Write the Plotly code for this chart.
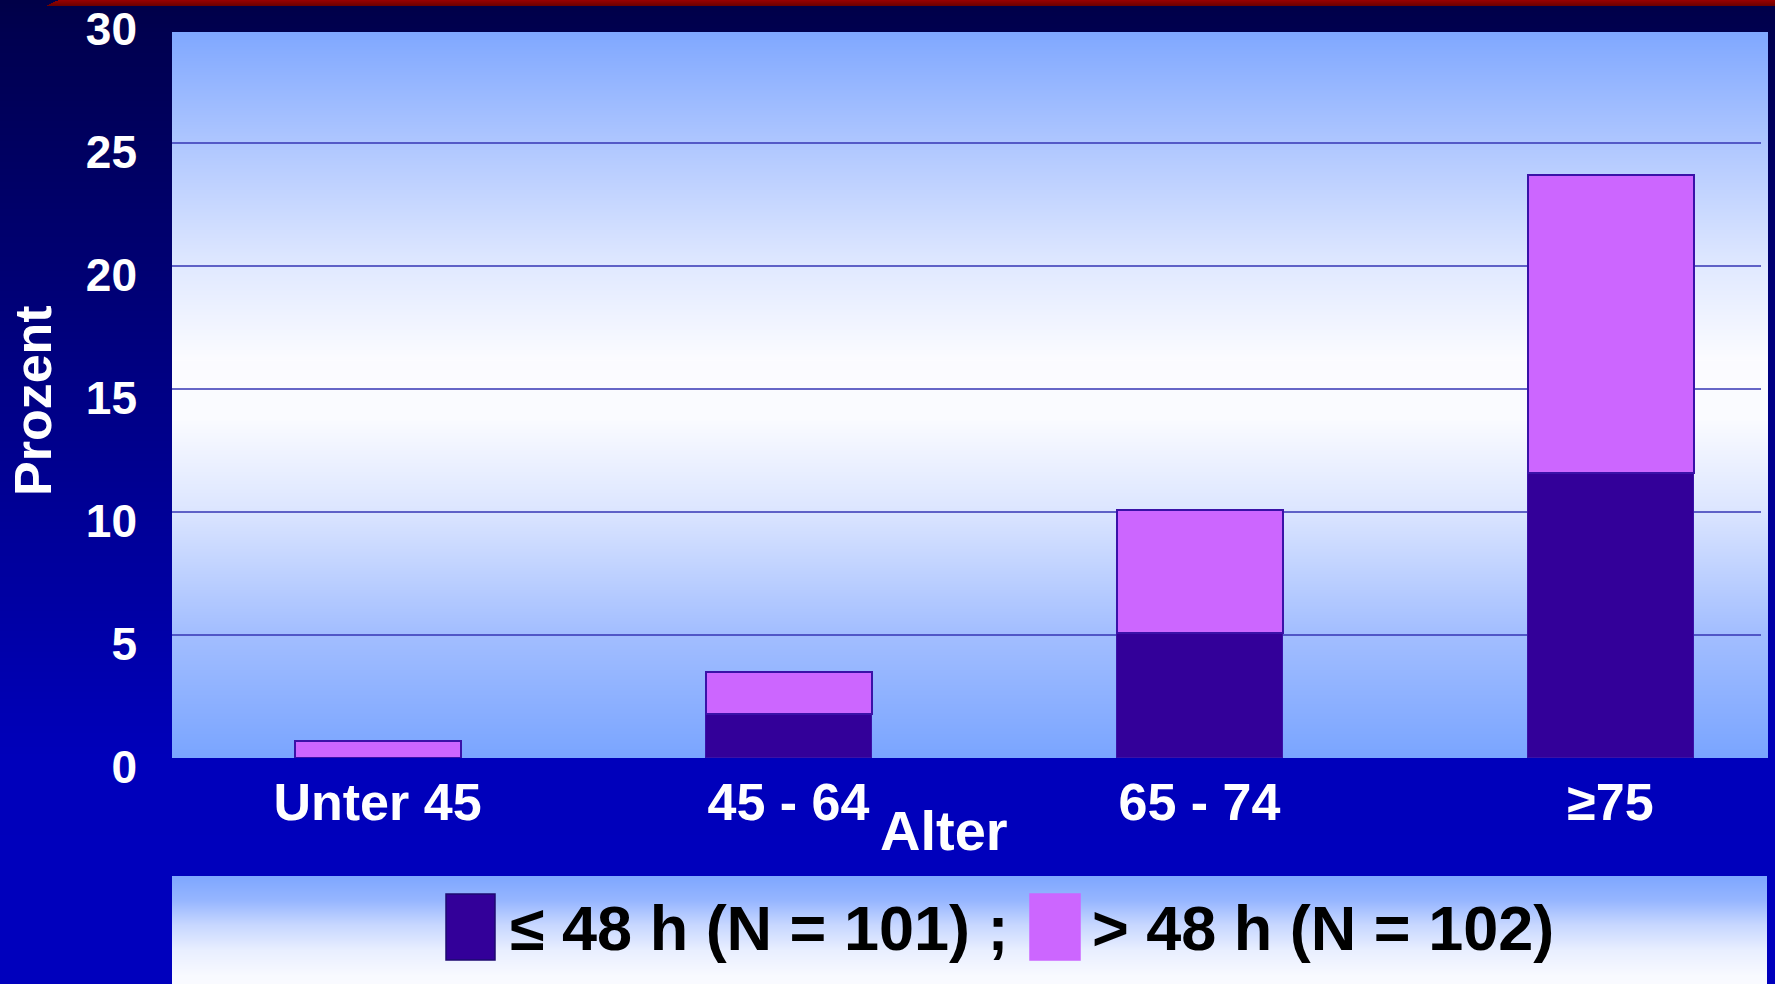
import base64
import struct
import zlib

import numpy as np
import plotly.graph_objects as go

# ---- data -------------------------------------------------------------
age_groups = ["Unter 45", "45 - 64", "65 - 74", "≥75"]
share_le48 = [0.0, 1.8, 5.1, 11.6]     # ≤ 48 h, percent
share_gt48 = [0.7, 1.7, 5.0, 12.1]     # > 48 h, percent
series_names = ["≤ 48 h (N = 101) ;", "> 48 h (N = 102)"]
y_ticks = [0, 5, 10, 15, 20, 25, 30]
grid_levels = [5, 10, 15, 20, 25]

# ---- page geometry (pixels) -------------------------------------------
W, H = 1775, 984
L, R, T, B = 172, 7, 20, 226
PW, PH = W - L - R, H - T - B
Y0 = H - B                      # pixel row of value 0
CAT_STEP = 411                  # pixel distance between category centres

FONT = "Liberation Sans, Arial, Helvetica, sans-serif"
DARK = "#330099"
LIGHT = "#CC66FF"


def px_x(x):
    return (x - L) / PW


def px_y(y):
    return (Y0 - y) / PH


def png_uri(rgb):
    h, w, _ = rgb.shape
    raw = b"".join(b"\x00" + rgb[r].tobytes() for r in range(h))

    def chunk(tag, data):
        body = tag + data
        return struct.pack(">I", len(data)) + body + struct.pack(">I", zlib.crc32(body) & 0xFFFFFFFF)

    png = (b"\x89PNG\r\n\x1a\n"
           + chunk(b"IHDR", struct.pack(">IIBBBBB", w, h, 8, 2, 0, 0, 0))
           + chunk(b"IDAT", zlib.compress(raw, 9))
           + chunk(b"IEND", b""))
    return "data:image/png;base64," + base64.b64encode(png).decode()


def ramp(rows, stops):
    ys = [s[0] for s in stops]
    return np.stack([np.interp(rows, ys, [s[1][c] for s in stops]) for c in range(3)], axis=1)


# ---- slide background: navy-to-blue page, light plot panel, legend panel
rows = np.arange(H)
bg = np.zeros((H, W, 3), dtype=float)
bg[:, :, 2] = np.interp(rows, [0, 32, 760, H], [72, 80, 187, 190])[:, None]

panel_rows = np.arange(32, Y0)
panel = ramp(panel_rows, [(32, (128, 168, 255)), (150, (178, 201, 255)), (270, (226, 234, 255)),
                          (360, (252, 252, 255)), (420, (250, 251, 255)), (505, (222, 231, 255)),
                          (630, (164, 191, 255)), (Y0, (122, 165, 255))])
bg[32:Y0, L:1768, :] = panel[:, None, :]

leg_rows = np.arange(876, H)
leg = ramp(leg_rows, [(876, (126, 167, 255)), (900, (150, 182, 255)), (925, (200, 216, 255)),
                      (950, (233, 239, 255)), (975, (248, 250, 255)), (H, (250, 251, 255))])
bg[876:H, L:1767, :] = leg[:, None, :]

for r in range(6):
    x_start = int(58 - r * 2.2)
    bg[r, x_start:, :] = (150 - r * 8, 0, 0)

bg_uri = png_uri(np.clip(bg, 0, 255).astype(np.uint8))

# ---- figure -------------------------------------------------------------
fig = go.Figure()
fig.add_trace(go.Bar(x=age_groups, y=share_le48, name=series_names[0],
                     marker=dict(color=DARK, line=dict(color="#3A12A8", width=1.5))))
fig.add_trace(go.Bar(x=age_groups, y=share_gt48, name=series_names[1],
                     marker=dict(color=LIGHT, line=dict(color="#3A12A8", width=2))))

shapes = []
for g in grid_levels:
    shapes.append(dict(type="line", xref="paper", yref="y", x0=0, x1=px_x(1761), y0=g, y1=g,
                       line=dict(color="#3434B4", width=1.5), layer="below"))

# legend keys
for (x0, x1), col in zip([(446, 495), (1030, 1080)], [DARK, LIGHT]):
    shapes.append(dict(type="rect", xref="paper", yref="paper",
                       x0=px_x(x0), x1=px_x(x1), y0=px_y(960), y1=px_y(894),
                       fillcolor=col, line=dict(color="#1E0A70" if col == DARK else col, width=1.5)))

annotations = [
    dict(text="Prozent", xref="paper", yref="paper", x=px_x(33), y=px_y(401), textangle=-90,
         xanchor="center", yanchor="middle", showarrow=False,
         font=dict(family=FONT, size=52, color="white", weight="bold")),
    dict(text="Alter", xref="paper", yref="paper", x=px_x(944), y=px_y(830),
         xanchor="center", yanchor="middle", showarrow=False,
         font=dict(family=FONT, size=56, color="white", weight="bold")),
    dict(text=series_names[0], xref="paper", yref="paper", x=px_x(508), y=px_y(928),
         xanchor="left", yanchor="middle", showarrow=False,
         font=dict(family=FONT, size=63, color="black", weight="bold")),
    dict(text=series_names[1], xref="paper", yref="paper", x=px_x(1090), y=px_y(928),
         xanchor="left", yanchor="middle", showarrow=False,
         font=dict(family=FONT, size=63, color="black", weight="bold")),
]

fig.update_layout(
    width=W, height=H, autosize=False,
    margin=dict(l=L, r=R, t=T, b=B, pad=0),
    barmode="stack", bargap=1 - 166 / CAT_STEP,
    showlegend=False,
    paper_bgcolor="#000050", plot_bgcolor="rgba(0,0,0,0)",
    font=dict(family=FONT, color="white"),
    shapes=shapes, annotations=annotations,
    images=[dict(source=bg_uri, xref="paper", yref="paper", x=-L / PW, y=(Y0) / PH,
                 sizex=W / PW, sizey=H / PH, xanchor="left", yanchor="top",
                 sizing="stretch", layer="below")],
)
fig.update_xaxes(type="category", range=[-0.5, -0.5 + PW / CAT_STEP], automargin=False,
                 showgrid=False, zeroline=False, showline=False, ticks="",
                 ticklabelstandoff=9,
                 tickfont=dict(family=FONT, size=52, color="white", weight="bold"))
fig.update_yaxes(range=[0, 30], tickvals=y_ticks, automargin=False,
                 showgrid=False, zeroline=False,
                 showline=False, ticks="", ticklabelstandoff=34, ticklabelshift=9,
                 ticklabeloverflow="allow",
                 tickfont=dict(family=FONT, size=46, color="white", weight="bold"))

fig.write_html("out.html")
